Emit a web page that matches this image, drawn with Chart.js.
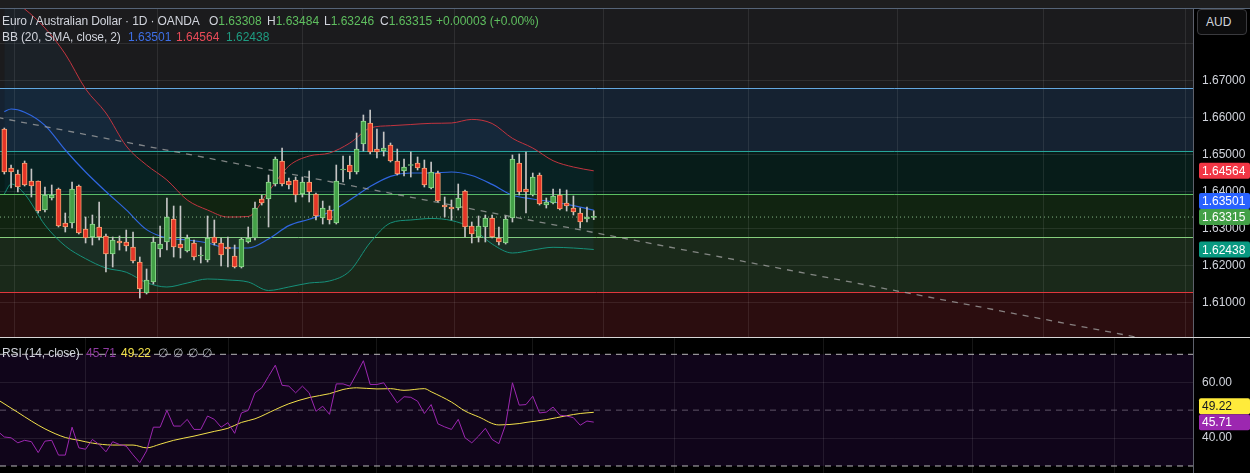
<!DOCTYPE html>
<html>
<head>
<meta charset="utf-8">
<title>EUR/AUD 1D</title>
<script src="https://cdn.jsdelivr.net/npm/chart.js@4.4.1/dist/chart.umd.min.js"></script>
<style>
  html, body { margin: 0; padding: 0; background: #000; }
  body { width: 1250px; height: 473px; position: relative; overflow: hidden;
         font-family: "Liberation Sans", Arial, sans-serif; }
  #topbar { position: absolute; left: 0; top: 0; width: 1250px; height: 8px; background: #1e1e1f; border-bottom: 1px solid #566477; }
  #priceCanvas { position: absolute; left: 0; top: 9px; }
  #sep { position: absolute; left: 0; top: 337px; width: 1250px; height: 1px; background: #d6d6d6; }
  #rsiCanvas { position: absolute; left: 0; top: 338px; }
  .lg { position: absolute; left: 0; height: 14px; width: 700px; font-size: 12px; line-height: 14px; color: #d1d4dc; white-space: nowrap; }
  .lg span { position: absolute; top: 0; }
  .lg .t { letter-spacing: -0.12px; }
  .up { color: #5fbf5f; }
  #aud { position: absolute; left: 1197px; top: 9px; width: 50px; height: 26px; box-sizing: border-box;
         border: 1px solid #3a3a3e; border-radius: 4px; background: #0c0c0d; color: #d1d4dc;
         font-size: 12px; line-height: 24px; padding-left: 8px; }
</style>
</head>
<body>
<div id="topbar"></div>
<canvas id="priceCanvas" width="1250" height="328"></canvas>
<div id="sep"></div>
<canvas id="rsiCanvas" width="1250" height="135"></canvas>

<div class="lg" style="top:14px">
  <span class="t" style="left:2px">Euro / Australian Dollar · 1D · OANDA</span>
  <span style="left:209px">O<b class="up" style="font-weight:normal">1.63308</b></span>
  <span style="left:267px">H<b class="up" style="font-weight:normal">1.63484</b></span>
  <span style="left:324px">L<b class="up" style="font-weight:normal">1.63246</b></span>
  <span style="left:380px">C<b class="up" style="font-weight:normal">1.63315</b></span>
  <span class="up" style="left:436px">+0.00003 (+0.00%)</span>
</div>
<div class="lg" style="top:30px">
  <span class="t" style="left:2px">BB (20, SMA, close, 2)</span>
  <span style="left:128px;color:#3d6fe6">1.63501</span>
  <span style="left:176px;color:#e84a58">1.64564</span>
  <span style="left:226px;color:#1e9c82">1.62438</span>
</div>
<div class="lg" style="top:346px">
  <span class="t" style="left:2px">RSI (14, close)</span>
  <span style="left:86px;color:#8e3aa0">45.71</span>
  <span style="left:121px;color:#f2e04a">49.22</span>
  <span style="left:158px;color:#b2b5be">∅</span>
  <span style="left:173px;color:#b2b5be">∅</span>
  <span style="left:188px;color:#b2b5be">∅</span>
  <span style="left:202px;color:#b2b5be">∅</span>
</div>
<div id="aud">AUD</div>

<script>
// daily candles, oldest first
const candleOpen = [1.65694,1.64640,1.64478,1.64776,1.64289,1.64289,1.63505,1.63830,1.64073,1.63154,
  1.63154,1.64154,1.62992,1.62776,1.63046,1.62803,1.62316,1.62668,1.62641,1.62505,
  1.62100,1.61262,1.61559,1.62451,1.62641,1.63262,1.62586,1.62397,1.62614,1.62262,
  1.62154,1.62776,1.62614,1.62505,1.62262,1.61965,1.62641,1.62749,1.63803,1.63803,
  1.64208,1.64830,1.64289,1.64316,1.63938,1.64262,1.63938,1.63289,1.63505,1.63154,
  1.64586,1.64721,1.64532,1.65289,1.65856,1.65154,1.65100,1.65262,1.64830,1.64559,
  1.64708,1.64776,1.64640,1.64100,1.64505,1.63640,1.63586,1.63559,1.64019,1.63073,
  1.62776,1.63046,1.63289,1.62749,1.62614,1.63289,1.64776,1.64073,1.63911,1.64451,
  1.63640,1.63694,1.63911,1.63694,1.63559,1.63424,1.63262,1.63308];
const candleHigh = [1.65721,1.64721,1.64586,1.64830,1.64613,1.64289,1.64127,1.64181,1.64100,1.63424,
  1.64262,1.64181,1.63316,1.63370,1.63722,1.62857,1.62776,1.62803,1.62965,1.62911,
  1.62235,1.61911,1.62776,1.63073,1.63830,1.63613,1.63613,1.62830,1.62695,1.62505,
  1.63343,1.63235,1.62749,1.62776,1.62559,1.62749,1.63046,1.63722,1.63911,1.64451,
  1.64938,1.65181,1.64370,1.64397,1.64397,1.64559,1.63965,1.63748,1.63613,1.64721,
  1.64965,1.64965,1.65586,1.66073,1.66208,1.65694,1.65613,1.65316,1.65154,1.64884,
  1.65073,1.64938,1.64857,1.64803,1.64559,1.63857,1.63776,1.64208,1.64046,1.63181,
  1.63343,1.63370,1.63370,1.63046,1.63343,1.64992,1.65019,1.65073,1.64505,1.64505,
  1.63830,1.64073,1.64073,1.64046,1.63884,1.63559,1.63586,1.63484];
const candleLow = [1.64478,1.64100,1.63992,1.64154,1.63857,1.63424,1.63451,1.63776,1.63046,1.62911,
  1.63019,1.62857,1.62614,1.62559,1.62695,1.61830,1.61965,1.62424,1.62397,1.62073,
  1.61127,1.61235,1.61505,1.62235,1.62424,1.62235,1.62208,1.62370,1.62154,1.62073,
  1.62100,1.62559,1.61992,1.61965,1.61938,1.61938,1.62614,1.62695,1.63640,1.63046,
  1.64154,1.64154,1.64073,1.63722,1.63857,1.63722,1.63235,1.63127,1.63127,1.63127,
  1.64262,1.64343,1.64478,1.65100,1.65019,1.64911,1.64965,1.64803,1.64451,1.64424,
  1.64397,1.64586,1.64127,1.64073,1.63722,1.63316,1.63235,1.63505,1.62776,1.62614,
  1.62641,1.62641,1.62749,1.62559,1.62586,1.63181,1.63911,1.63424,1.63884,1.63640,
  1.63559,1.63667,1.63505,1.63478,1.63370,1.63019,1.63181,1.63246];
const candleClose = [1.64532,1.64532,1.64127,1.64181,1.64154,1.63478,1.63911,1.63911,1.63073,1.63046,
  1.64073,1.62884,1.62749,1.63127,1.62776,1.62316,1.62695,1.62614,1.62532,1.62127,
  1.61370,1.61614,1.62641,1.62586,1.63316,1.62505,1.62478,1.62749,1.62235,1.62289,
  1.62749,1.62614,1.62289,1.62451,1.61965,1.62722,1.62749,1.63559,1.63694,1.64262,
  1.64884,1.64208,1.64181,1.63911,1.64262,1.63992,1.63343,1.63559,1.63235,1.64289,
  1.64613,1.64532,1.65154,1.65911,1.65073,1.65073,1.65181,1.64830,1.64478,1.64667,
  1.64721,1.64640,1.64181,1.64532,1.63748,1.63586,1.63532,1.63830,1.63046,1.62857,
  1.63073,1.63289,1.62776,1.62641,1.63262,1.64884,1.63992,1.63992,1.64397,1.63667,
  1.63722,1.63884,1.63532,1.63613,1.63451,1.63181,1.63316,1.63315];

// Bollinger bands, read at these candle indexes
const bbIdx = [0,1,3,6,9,12,15,18,21,24,27,30,33,36,39,42,45,48,51,54,57,60,63,66,69,72,75,78,81,84,87];
const bbUpper = [1.69316,1.69181,1.68938,1.68424,1.67721,1.66776,1.66127,1.65235,1.64721,1.64316,
  1.63776,1.63505,1.63316,1.63330,1.64005,1.64695,1.64965,1.65046,1.65316,1.65722,
  1.65784,1.65816,1.65848,1.65857,1.65954,1.65843,1.65443,1.65181,1.64838,1.64667,1.64564];
const bbMiddle = [1.66165,1.66235,1.66148,1.65792,1.65127,1.64532,1.64005,1.63508,1.62975,1.62749,
  1.62695,1.62614,1.62478,1.62478,1.62722,1.63083,1.63254,1.63451,1.63776,1.64140,
  1.64416,1.64505,1.64505,1.64532,1.64438,1.64197,1.63905,1.63803,1.63722,1.63622,1.63501];
const bbLower = [1.63938,1.64208,1.63938,1.63100,1.62532,1.62190,1.61938,1.61824,1.61543,1.61424,
  1.61532,1.61641,1.61614,1.61559,1.61330,1.61424,1.61532,1.61587,1.61857,1.62623,
  1.63154,1.63235,1.63276,1.63221,1.63019,1.62586,1.62343,1.62424,1.62497,1.62478,1.62438];

// drawn levels (top to bottom) and the dashed trend line
const zoneLevels = [1.66803, 1.65100, 1.63938, 1.62776, 1.61289];
const trendIdx = [-1, 170];
const trendPrice = [1.66006, 1.59967];

// RSI per candle, first value belongs to index -1
const rsiFirstIndex = -1;
const rsiValues = [42.5,
  40.4,40.1,38.3,39.2,38.7,34.8,38.9,39.2,33.9,33.9,
  43.9,36.5,36.0,39.5,37.7,35.1,38.7,37.7,37.1,34.0,
  31.2,35.4,43.9,43.9,49.9,44.3,44.3,46.7,43.1,43.1,
  47.9,46.7,43.9,45.5,41.7,49.0,49.9,56.2,58.0,62.1,
  66.1,58.9,58.6,56.2,58.6,56.2,49.6,51.4,48.5,59.4,
  59.4,58.6,63.0,67.7,59.2,59.2,59.8,56.2,52.6,54.8,
  54.6,53.2,48.8,52.0,45.1,44.0,43.1,46.7,40.1,38.3,
  40.7,43.5,39.5,38.0,44.9,59.8,51.8,52.0,55.0,49.0,
  49.3,51.1,48.2,47.9,47.3,44.6,46.1,45.71];
const maIdx = [-1,2,4,6,9,11,13,16,19,21,23,25,28,31,33,35,37,40,42,45,48,50,52,55,57,59,62,63,66,68,70,73,76,77,80,83,85,87];
const maValues = [53.8,49.2,46.1,43.3,40.2,39.2,38.2,37.5,37.5,36.5,37.8,39.2,40.7,42.4,43.5,45.6,46.9,50.2,52.3,54.5,
  55.9,57.4,58.0,57.6,57.7,57.1,57.7,56.6,52.9,49.7,47.6,44.7,45.2,45.6,46.6,48.0,48.8,49.22];
const rsiLevels = [70, 50, 30];

// axes
const priceTicks = [1.61, 1.62, 1.63, 1.64, 1.65, 1.66, 1.67, 1.68];
const priceTickLabels = ['1.61000','1.62000','1.63000','1.64000','1.65000','1.66000','1.67000',''];
const rsiTicks = [40, 60];
const rsiTickLabels = ['40.00', '60.00'];
const monthGridIdx = [12, 33.1, 55, 78, 98.9, 120.9, 142.9, 163.9];
const priceMin = 1.60073, priceMax = 1.68938;
const rsiMin = 27.49, rsiMax = 75.84;
const xMin = -0.635, xMax = 175.45;

// styling
const zoneFills = ['#1b1b1d', '#152231', '#071c19', '#112411', '#1a291a', '#2b0d0f'];
const zoneLineColors = ['#64a8e0', '#26a69a', '#5cbf60', '#86cf7c', '#e0373d'];
const gridColor = 'rgba(255,255,255,0.085)';
const upFill = '#43a047', upLine = '#8fd88f', downFill = '#e53528', downLine = '#f5a070';
const fontFamily = '"Liberation Sans", Arial, sans-serif';

Chart.defaults.font.family = fontFamily;
Chart.defaults.font.size = 12;

function fixedAxis(scale) {
  scale.width = 57;
  scale.paddingTop = 0;
  scale.paddingBottom = 0;
}

function xScale() {
  return {
    type: 'linear', min: xMin, max: xMax, offset: false,
    afterBuildTicks: s => { s.ticks = monthGridIdx.map(v => ({ value: v })); },
    ticks: { display: false },
    grid: { color: gridColor, drawTicks: false },
    border: { display: false }
  };
}

function badges(id, getItems) {
  return {
    id,
    afterDraw(chart) {
      const { ctx, chartArea: a, scales: { y } } = chart;
      const items = getItems().map(it => Object.assign({ py: y.getPixelForValue(it.value) }, it))
        .sort((p, q) => p.py - q.py);
      for (let i = items.length - 2; i >= 0; i--) {
        if (items[i + 1].py - items[i].py < 16) items[i].py = items[i + 1].py - 16;
      }
      ctx.save();
      ctx.font = '12px ' + fontFamily;
      ctx.textBaseline = 'middle';
      items.forEach(it => {
        ctx.fillStyle = it.bg;
        ctx.beginPath();
        ctx.roundRect(a.right + 6, it.py - 8, 51, 16, 2);
        ctx.fill();
        ctx.fillStyle = it.fg;
        ctx.fillText(it.text, a.right + 9, it.py + 1);
      });
      ctx.restore();
    }
  };
}

const zonePlugin = {
  id: 'zones',
  beforeDraw(chart) {
    const { ctx, chartArea: a, scales: { y } } = chart;
    ctx.save();
    ctx.fillStyle = '#000';
    ctx.fillRect(0, 0, chart.width, chart.height);
    const edges = [y.max].concat(zoneLevels, [y.min]);
    zoneFills.forEach((c, k) => {
      const t = y.getPixelForValue(edges[k]), b = y.getPixelForValue(edges[k + 1]);
      ctx.fillStyle = c;
      ctx.fillRect(a.left, t, a.right - a.left, b - t);
    });
    ctx.restore();
  },
  beforeDatasetsDraw(chart) {
    const { ctx, chartArea: a, scales: { y } } = chart;
    ctx.save();
    ctx.lineWidth = 1;
    zoneLevels.forEach((lv, k) => {
      const py = Math.round(y.getPixelForValue(lv)) + 0.5;
      ctx.strokeStyle = zoneLineColors[k];
      ctx.beginPath();
      ctx.moveTo(a.left, py);
      ctx.lineTo(a.right, py);
      ctx.stroke();
    });
    ctx.restore();
  }
};

const candleIdx = candleOpen.map((_, i) => i);
const isUp = i => candleClose[i] >= candleOpen[i];
const last = arr => arr[arr.length - 1];
const pts = (xs, ys) => xs.map((x, i) => ({ x, y: ys[i] }));

new Chart(document.getElementById('priceCanvas'), {
  type: 'bar',
  data: {
    datasets: [
      {
        data: candleIdx.map(i => ({ x: i, y: [candleOpen[i], candleClose[i]] })),
        backgroundColor: c => isUp(c.dataIndex) ? upFill : downFill,
        borderColor: c => isUp(c.dataIndex) ? upLine : downLine,
        borderWidth: 1, borderSkipped: false, barThickness: 5, minBarLength: 1,
        grouped: false, order: 0
      },
      {
        data: candleIdx.map(i => ({ x: i, y: [candleLow[i], candleHigh[i]] })),
        backgroundColor: '#c4c4c4', borderWidth: 0, barThickness: 1, grouped: false, order: 1
      },
      {
        type: 'line',
        data: [{ x: xMin, y: last(candleClose) }, { x: xMax, y: last(candleClose) }],
        borderColor: 'rgba(150,205,150,0.85)', borderWidth: 1, borderDash: [1, 3],
        pointRadius: 0, order: 2
      },
      {
        type: 'line',
        data: pts(trendIdx, trendPrice),
        borderColor: 'rgba(165,165,165,0.75)', borderWidth: 1.3, borderDash: [6, 6],
        pointRadius: 0, order: 3
      },
      {
        type: 'line', data: pts(bbIdx, bbUpper),
        borderColor: '#c2343f', borderWidth: 1, pointRadius: 0,
        cubicInterpolationMode: 'monotone', order: 4
      },
      {
        type: 'line', data: pts(bbIdx, bbMiddle),
        borderColor: '#2f66e0', borderWidth: 1.2, pointRadius: 0,
        cubicInterpolationMode: 'monotone', order: 4
      },
      {
        type: 'line', data: pts(bbIdx, bbLower),
        borderColor: '#16907a', borderWidth: 1, pointRadius: 0,
        cubicInterpolationMode: 'monotone', order: 4,
        fill: 4, backgroundColor: 'rgba(33,150,243,0.05)'
      }
    ]
  },
  options: {
    responsive: false,
    animation: false,
    events: [],
    layout: { padding: 0 },
    plugins: { legend: { display: false }, tooltip: { enabled: false } },
    scales: {
      x: xScale(),
      y: {
        position: 'right', min: priceMin, max: priceMax,
        afterBuildTicks: s => { s.ticks = priceTicks.map(v => ({ value: v })); },
        afterFit: fixedAxis,
        grid: { color: gridColor, drawTicks: false },
        border: { color: '#5d606b' },
        ticks: { color: '#d1d4dc', padding: 9, autoSkip: false, callback: (v, i) => priceTickLabels[i] }
      }
    }
  },
  plugins: [zonePlugin, badges('priceBadges', () => [
    { value: last(bbUpper), text: last(bbUpper).toFixed(5), bg: '#f23645', fg: '#fff' },
    { value: last(bbMiddle), text: last(bbMiddle).toFixed(5), bg: '#2962ff', fg: '#fff' },
    { value: last(candleClose), text: last(candleClose).toFixed(5), bg: '#43a047', fg: '#fff' },
    { value: last(bbLower), text: last(bbLower).toFixed(5), bg: '#089981', fg: '#fff' }
  ])]
});

const rsiBand = {
  id: 'rsiBand',
  beforeDraw(chart) {
    const { ctx, chartArea: a, scales: { y } } = chart;
    ctx.save();
    ctx.fillStyle = '#000';
    ctx.fillRect(0, 0, chart.width, chart.height);
    const t = y.getPixelForValue(rsiLevels[0]), b = y.getPixelForValue(rsiLevels[2]);
    ctx.fillStyle = '#10051a';
    ctx.fillRect(a.left, t, a.right - a.left, b - t);
    ctx.restore();
  }
};

new Chart(document.getElementById('rsiCanvas'), {
  type: 'line',
  data: {
    datasets: [
      {
        data: rsiValues.map((v, i) => ({ x: i + rsiFirstIndex, y: v })),
        borderColor: '#9c27b0', borderWidth: 1, pointRadius: 0, order: 0
      },
      {
        data: pts(maIdx, maValues),
        borderColor: '#f2e04a', borderWidth: 1, pointRadius: 0,
        cubicInterpolationMode: 'monotone', order: 1
      }
    ].concat(rsiLevels.map((lv, k) => ({
      data: [{ x: xMin, y: lv }, { x: xMax, y: lv }],
      borderColor: k === 1 ? 'rgba(160,150,170,0.55)' : 'rgba(215,215,215,0.85)',
      borderWidth: 1, borderDash: [6, 5], pointRadius: 0, order: 2
    })))
  },
  options: {
    responsive: false,
    animation: false,
    events: [],
    layout: { padding: 0 },
    plugins: { legend: { display: false }, tooltip: { enabled: false } },
    scales: {
      x: xScale(),
      y: {
        position: 'right', min: rsiMin, max: rsiMax,
        afterBuildTicks: s => { s.ticks = rsiTicks.map(v => ({ value: v })); },
        afterFit: fixedAxis,
        grid: { color: gridColor, drawTicks: false },
        border: { color: '#5d606b' },
        ticks: { color: '#d1d4dc', padding: 9, autoSkip: false, callback: (v, i) => rsiTickLabels[i] }
      }
    }
  },
  plugins: [rsiBand, badges('rsiBadges', () => [
    { value: last(maValues), text: last(maValues).toFixed(2), bg: '#ffeb3b', fg: '#131722' },
    { value: last(rsiValues), text: last(rsiValues).toFixed(2), bg: '#9c27b0', fg: '#fff' }
  ])]
});
</script>
</body>
</html>
